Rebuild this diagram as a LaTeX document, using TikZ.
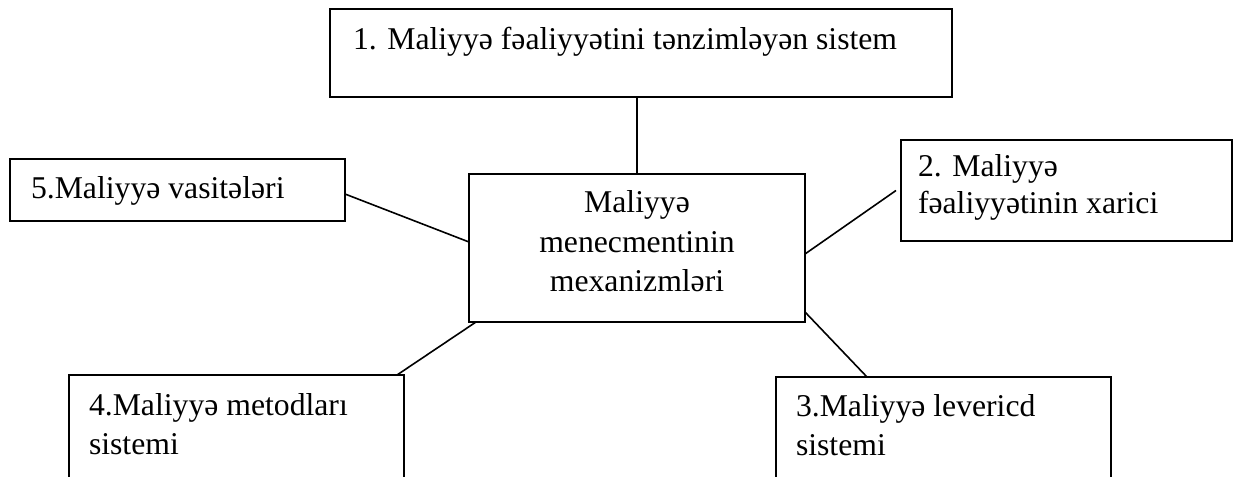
\documentclass[tikz,border=0pt]{standalone}
\usepackage{fontspec}
\setmainfont{Liberation Serif}
\begin{document}
\begin{tikzpicture}[x=1bp,y=-1bp,
  box/.style={draw, line width=1.6bp, rectangle, inner sep=0pt, outer sep=0pt},
  label/.style={inner sep=0pt, outer sep=0pt, font=\fontsize{31.7bp}{38.5bp}\selectfont},
  link/.style={line width=1.6bp}]
\useasboundingbox (0,0) rectangle (1236,477);
\clip (0,0) rectangle (1236,477);

% boxes
\node[box, minimum width=622bp, minimum height=88bp]  (sys1) at (641,53) {};
\node[box, minimum width=335bp, minimum height=62bp]  (tools) at (177.5,190) {};
\node[box, minimum width=336bp, minimum height=148bp] (core) at (637,248) {};
\node[box, minimum width=331bp, minimum height=101bp] (ext) at (1066.5,190.5) {};
\node[box, minimum width=335bp, minimum height=135bp] (methods) at (236.5,442.5) {};
\node[box, minimum width=335bp, minimum height=135bp] (lever) at (943.5,444.5) {};

% texts (multi-line nodes are placed by the baseline of their last line)
\node[label, anchor=base west] (t1) at (353,50) {1. Maliyyə fəaliyyətini tənzimləyən sistem};
\node[label, anchor=base west] (t5) at (31,199) {5.Maliyyə vasitələri};
\node[label, anchor=base, align=center, font=\fontsize{31.7bp}{39.5bp}\selectfont] (tc) at (637,292) {Maliyyə\\menecmentinin\\mexanizmləri};
\node[label, anchor=base west, align=left, font=\fontsize{31.7bp}{37bp}\selectfont] (t2) at (918,214) {2. Maliyyə\\fəaliyyətinin xarici};
\node[label, anchor=base west, align=left] (t4) at (89,454) {4.Maliyyə metodları\\sistemi};
\node[label, anchor=base west, align=left] (t3) at (796,455) {3.Maliyyə levericd\\sistemi};

% connectors
\draw[link] (core.north) -- (core.north |- sys1.south);
\draw[link] ([yshift=-4bp]tools.east) -- ([yshift=6bp]core.west);
\draw[link] ([xshift=-5bp]ext.west) -- ([yshift=-6bp]core.east);
\draw[link] ([xshift=-7bp]methods.north east) -- ([xshift=7bp]core.south west);
\draw[link] ([yshift=10bp]core.south east) -- ([xshift=91bp]lever.north west);
\end{tikzpicture}
\end{document}
